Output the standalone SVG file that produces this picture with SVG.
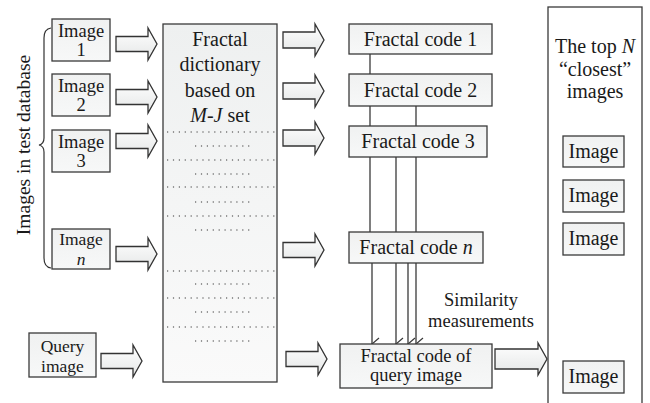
<svg xmlns="http://www.w3.org/2000/svg" width="650" height="403" viewBox="0 0 650 403">
<defs>
<linearGradient id="gBox" x1="0" y1="0" x2="0" y2="1"><stop offset="0" stop-color="#f0f1f1"/><stop offset="1" stop-color="#f7f8f8"/></linearGradient>
<linearGradient id="gDict" x1="0" y1="0" x2="0" y2="1"><stop offset="0" stop-color="#eef0f0"/><stop offset="1" stop-color="#fafafa"/></linearGradient>
<linearGradient id="gArr" x1="0" y1="0" x2="0" y2="1"><stop offset="0" stop-color="#ffffff"/><stop offset="1" stop-color="#e4e6e6"/></linearGradient>
<marker id="vh" viewBox="0 0 14 10" refX="7" refY="9" markerWidth="14" markerHeight="10" markerUnits="userSpaceOnUse" orient="auto-start-reverse">
<path d="M1,2 L7,9 L13,2" fill="none" stroke="#3a3a3a" stroke-width="1.2"/>
</marker>
<style>
text{font-family:"Liberation Serif","Times New Roman",serif;font-size:20px;fill:#1a1a1a;text-anchor:middle}
.sm{font-size:18.5px}
.xs{font-size:17.5px}
.box{fill:url(#gBox);stroke:#3a3a3a;stroke-width:1.3}
.plain{fill:#ffffff;stroke:#3a3a3a;stroke-width:1.3}
.arr{fill:url(#gArr);stroke:#333;stroke-width:1.3;stroke-linejoin:miter}
.con{stroke:#3a3a3a;stroke-width:1.3;fill:none}
.dot{stroke:#777;stroke-width:1.3;stroke-dasharray:1.2 4.7}
</style>
</defs>

<g id="label-db">
<text transform="translate(30,145) rotate(-90)" style="font-size:19.5px">Images in test database</text>
<path d="M51,28 Q44,29 44,38 V138 Q44,144 39,145 Q44,146 44,152 V258 Q44,267 51,268" fill="none" stroke="#333" stroke-width="1.2"/>
</g>

<g id="image1"><rect class="box" x="52" y="19" width="58" height="42"/><text class="sm" x="81" y="37">Image</text><text class="sm" x="81" y="56">1</text></g>
<g id="image2"><rect class="box" x="52" y="74" width="58" height="42"/><text class="sm" x="81" y="92">Image</text><text class="sm" x="81" y="111">2</text></g>
<g id="image3"><rect class="box" x="52" y="130" width="58" height="42"/><text class="sm" x="81" y="148">Image</text><text class="sm" x="81" y="167">3</text></g>
<g id="imagen"><rect class="box" x="52" y="229" width="58" height="40"/><text class="xs" x="81" y="245">Image</text><text class="xs" x="81" y="265" font-style="italic">n</text></g>
<g id="query"><rect class="box" x="29" y="333" width="67" height="44"/><text class="xs" x="62.5" y="352">Query</text><text class="xs" x="62.5" y="372">image</text></g>

<g id="dictionary">
<rect x="163" y="24" width="114" height="358" style="fill:url(#gDict);stroke:#3a3a3a;stroke-width:1.3"/>
<text x="220" y="46">Fractal</text>
<text x="220" y="71">dictionary</text>
<text x="220" y="97">based on</text>
<text x="220" y="122"><tspan font-style="italic">M-J</tspan> set</text>
<line class="dot" x1="167" y1="132" x2="276" y2="132"/>
<line class="dot" x1="195" y1="146" x2="250" y2="146"/>
<line class="dot" x1="167" y1="160" x2="276" y2="160"/>
<line class="dot" x1="195" y1="174" x2="250" y2="174"/>
<line class="dot" x1="167" y1="187" x2="276" y2="187"/>
<line class="dot" x1="195" y1="202" x2="250" y2="202"/>
<line class="dot" x1="167" y1="216" x2="276" y2="216"/>
<line class="dot" x1="195" y1="230" x2="250" y2="230"/>
<line class="dot" x1="167" y1="271" x2="276" y2="271"/>
<line class="dot" x1="195" y1="284" x2="250" y2="284"/>
<line class="dot" x1="167" y1="298" x2="276" y2="298"/>
<line class="dot" x1="195" y1="312" x2="250" y2="312"/>
<line class="dot" x1="167" y1="327" x2="276" y2="327"/>
<line class="dot" x1="195" y1="341" x2="250" y2="341"/>
</g>

<g id="connectors">
<path class="arr" d="M116,36.5 H148 V28 L157,44 L148,60 V51.5 H116 Z"/>
<path class="arr" d="M116,89.5 H148 V81 L157,97 L148,113 V104.5 H116 Z"/>
<path class="arr" d="M116,133.5 H148 V125 L157,141 L148,157 V148.5 H116 Z"/>
<path class="arr" d="M116,246.5 H148 V238 L157,254 L148,270 V261.5 H116 Z"/>
<path class="arr" d="M101,353.5 H133 V345 L142,361 L133,377 V368.5 H101 Z"/>
<path class="arr" d="M283,32 H315 V24 L324,40 L315,56 V48 H283 Z"/>
<path class="arr" d="M283,83 H315 V75 L324,91 L315,107 V99 H283 Z"/>
<path class="arr" d="M283,130 H315 V122 L324,138 L315,154 V146 H283 Z"/>
<path class="arr" d="M283,242.5 H315 V234 L324,250 L315,266 V257.5 H283 Z"/>
<path class="arr" d="M286,351.5 H318 V343 L327,359 L318,375 V366.5 H286 Z"/>
<path class="arr" d="M495,349 H538 V343 L547,359 L538,375 V369 H495 Z"/>
<line class="con" x1="370" y1="54" x2="370" y2="74"/>
<line class="con" x1="370" y1="106" x2="370" y2="126"/>
<line class="con" x1="416" y1="106" x2="416" y2="126"/>
<line class="con" x1="370" y1="157" x2="370" y2="232"/>
<line class="con" x1="396" y1="157" x2="396" y2="232"/>
<line class="con" x1="416" y1="157" x2="416" y2="232"/>
<line class="con" x1="372" y1="263" x2="372" y2="344" marker-end="url(#vh)"/>
<line class="con" x1="396" y1="263" x2="396" y2="344" marker-end="url(#vh)"/>
<line class="con" x1="408" y1="263" x2="408" y2="344" marker-end="url(#vh)"/>
<line class="con" x1="416" y1="263" x2="416" y2="344" marker-end="url(#vh)"/>
</g>

<g id="code1"><rect class="box" x="349" y="24" width="143" height="30"/><text x="420.5" y="46">Fractal code 1</text></g>
<g id="code2"><rect class="box" x="349" y="74" width="143" height="32"/><text x="420.5" y="97">Fractal code 2</text></g>
<g id="code3"><rect class="box" x="349" y="126" width="138" height="31"/><text x="418" y="148">Fractal code 3</text></g>
<g id="coden"><rect class="box" x="349" y="232" width="134" height="31"/><text x="416" y="254">Fractal code <tspan font-style="italic">n</tspan></text></g>
<g id="querycode"><rect class="box" x="340" y="344" width="152" height="44"/><text class="sm" x="416" y="362">Fractal code of</text><text class="sm" x="416" y="381">query image</text></g>

<g id="similarity"><text class="sm" x="481" y="306">Similarity</text><text class="sm" x="481" y="327">measurements</text></g>

<g id="results">
<rect class="plain" x="548" y="7" width="94" height="400"/>
<text x="595" y="53">The top <tspan font-style="italic">N</tspan></text>
<text x="595" y="76">“closest”</text>
<text x="595" y="98">images</text>
</g>
<g id="res1"><rect class="box" x="563" y="136" width="61" height="31"/><text x="593.5" y="158">Image</text></g>
<g id="res2"><rect class="box" x="563" y="180" width="61" height="32"/><text x="593.5" y="202">Image</text></g>
<g id="res3"><rect class="box" x="563" y="223" width="61" height="32"/><text x="593.5" y="245">Image</text></g>
<g id="res4"><rect class="box" x="563" y="361" width="61" height="32"/><text x="593.5" y="383">Image</text></g>
</svg>
